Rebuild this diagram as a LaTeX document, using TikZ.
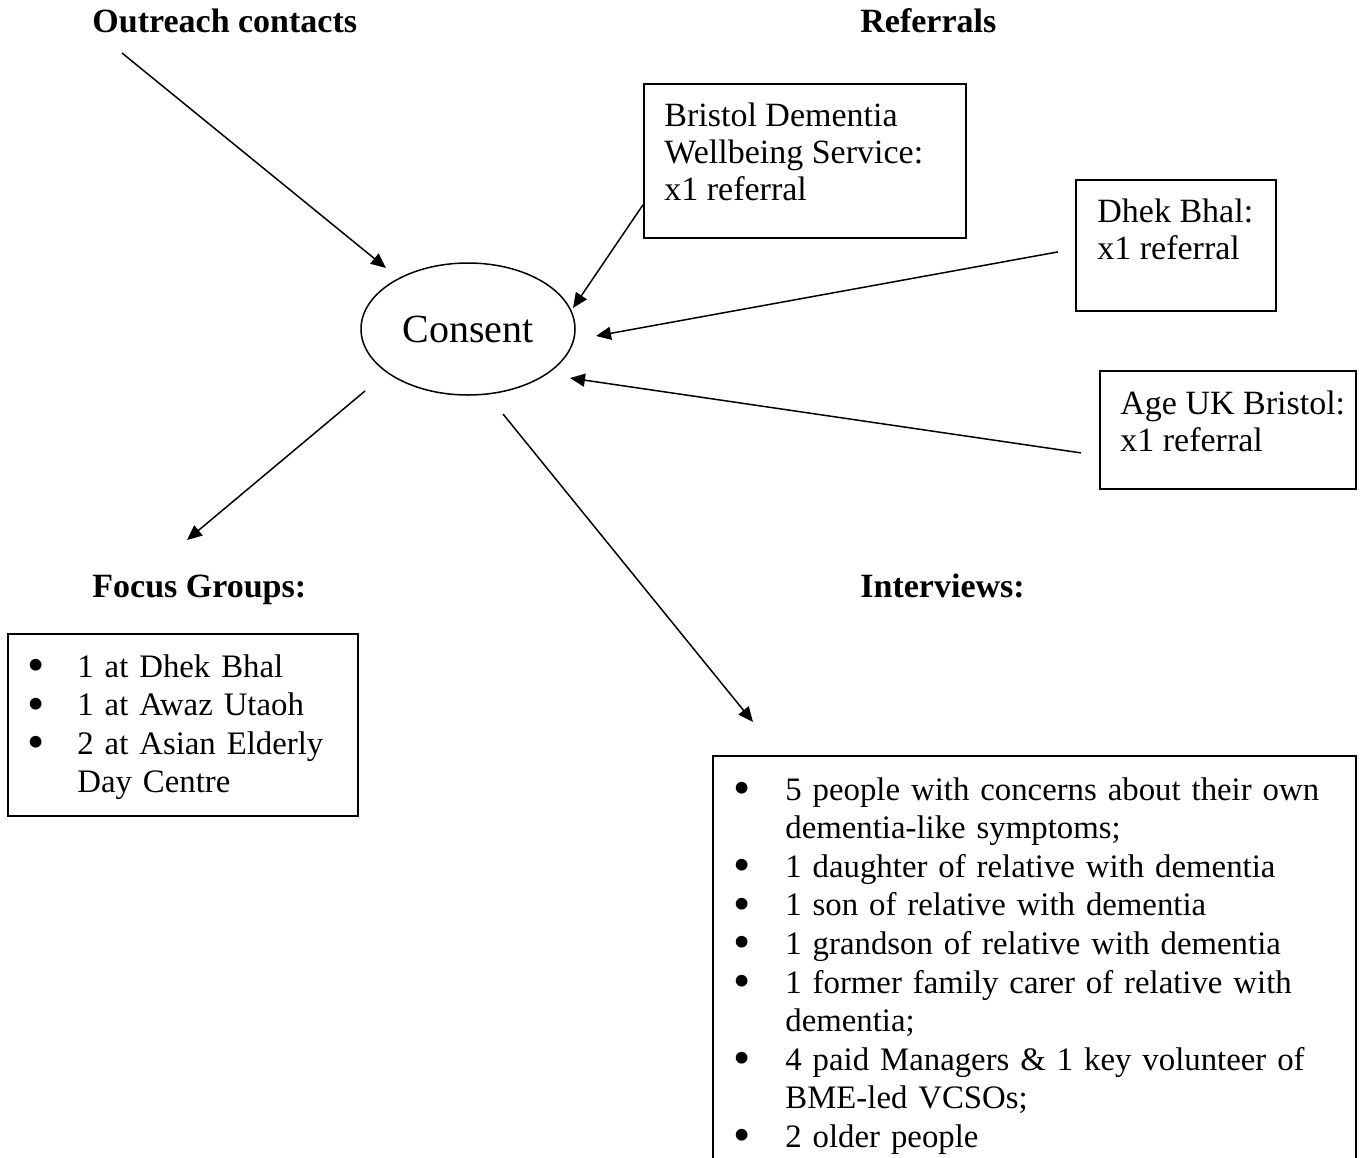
\documentclass[tikz,border=0pt]{standalone}
\usepackage{fontspec}
\setmainfont{Liberation Serif}
\usepackage{graphicx}
\usepackage{enumitem}
\usetikzlibrary{positioning, arrows.meta, calc, shapes.geometric}

\newcommand{\bigbullet}{\raisebox{-2.2pt}{\scalebox{1.5}{\textbullet}}}

\begin{document}
\begin{tikzpicture}[
  x=0.5pt, y=-0.5pt,
  font=\fontsize{17}{19.3}\selectfont,
  arr/.style={-{Triangle[length=7.5pt,width=6.5pt]}, line width=0.75pt, draw=black},
  box/.style={draw=black, line width=0.9pt, inner sep=0pt, anchor=north west},
  txt/.style={align=left, inner sep=0pt, anchor=north west, font=\fontsize{17}{18.5}\selectfont},
  lst/.style={inner sep=0pt, anchor=north west, font=\fontsize{16.4}{19.3}\selectfont},
  head/.style={font=\fontsize{17}{19.3}\selectfont\bfseries, inner sep=0pt, anchor=base west}
]
\clip (0,0) rectangle (1362,1158);
\fill[white] (0,0) rectangle (1362,1158);

% ================= HEADINGS =================
\node[head] (outreach) at (92,32) {Outreach contacts};
\node[head] (referrals) at (860,32) {Referrals};
\node[head] (focusHead) at (92,597) {Focus Groups:};
\node[head] (intHead) at (860,597) {Interviews:};

% ================= CONSENT =================
\node[ellipse, draw=black, line width=0.75pt, minimum width=107pt, minimum height=66pt,
      inner sep=0pt, font=\fontsize{20}{24}\selectfont] (consent) at (468,329) {Consent};

% ================= REFERRALS =================
\node[box, minimum width=161pt, minimum height=77pt] (bdws) at (643,83) {};
\node[txt] (bdwsText) at ($(bdws.north west)+(21,17)$)
  {\strut Bristol Dementia\\Wellbeing Service:\\x1 referral};
\node[box, minimum width=100pt, minimum height=65.5pt] (dhek) at (1075,179) {};
\node[txt] (dhekText) at ($(dhek.north west)+(22,17)$)
  {\strut Dhek Bhal:\\x1 referral};
\node[box, minimum width=128pt, minimum height=59pt] (age) at (1099,370) {};
\node[txt] (ageText) at ($(age.north west)+(21,18)$)
  {\strut Age UK Bristol:\\x1 referral};

% ================= OUTCOMES =================
\node[box, minimum width=175pt, minimum height=91pt] (focus) at (7,633) {};
\node[lst, text width=200pt] (focusList) at ($(focus.north west)+(0,5)$)
  {\raggedright
   \begin{itemize}[nosep, leftmargin=35pt, labelsep=16.5pt, label=\bigbullet]
     \item \strut 1 at Dhek Bhal
     \item 1 at Awaz Utaoh
     \item 2 at Asian Elderly\\ Day Centre
   \end{itemize}};
\node[box, minimum width=321.5pt, minimum height=210pt] (interviews) at (712,755) {};
\node[lst, text width=340pt] (intList) at ($(interviews.north west)+(0,6)$)
  {\raggedright
   \begin{itemize}[nosep, leftmargin=36.5pt, labelsep=17.5pt, label=\bigbullet]
     \item \strut 5 people with concerns about their own\\ dementia-like symptoms;
     \item 1 daughter of relative with dementia
     \item 1 son of relative with dementia
     \item 1 grandson of relative with dementia
     \item 1 former family carer of relative with\\ dementia;
     \item 4 paid Managers \& 1 key volunteer of\\ BME-led VCSOs;
     \item 2 older people
   \end{itemize}};

% ================= ARROWS =================
\draw[arr] ($(outreach.base west)+(30,21)$) -- ($(consent.center)+(-82,-61)$);
\draw[arr] ($(bdws.south west)+(0,-34)$) -- ($(consent.center)+(105,-21)$);
\draw[arr] ($(dhek.west)+(-17,6.5)$) -- ($(consent.center)+(128,7)$);
\draw[arr] ($(age.west)+(-18,23)$) -- ($(consent.center)+(102,49)$);
\draw[arr] ($(consent.center)+(-103,62)$) -- ($(focusHead.base west)+(95,-57)$);
\draw[arr] ($(consent.center)+(35,85)$) -- ($(interviews.north west)+(41,-33)$);
\end{tikzpicture}
\end{document}
